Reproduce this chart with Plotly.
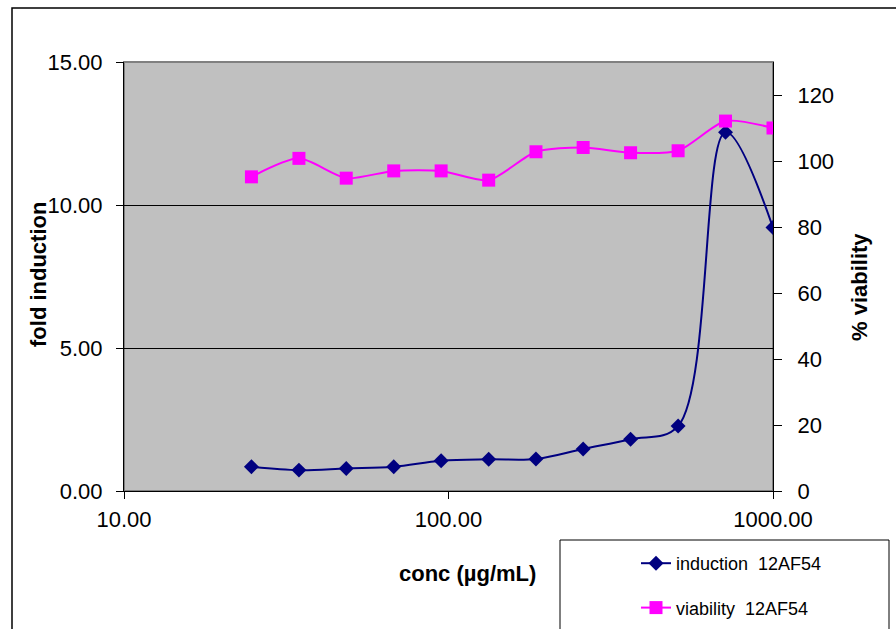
import plotly.graph_objects as go

# ---- data ----
conc = [24.7, 34.6, 48.4, 67.8, 94.9, 133, 186, 260, 364, 510, 714, 1000]
induction = [0.85, 0.73, 0.79, 0.85, 1.06, 1.11, 1.12, 1.47, 1.81, 2.27, 12.54, 9.21]
viability = [95.2, 100.8, 94.8, 97.0, 97.0, 94.2, 102.8, 104.1, 102.5, 103.1, 112.1, 110.0]
x_ticks = [10, 100, 1000]
x_tick_labels = ["10.00", "100.00", "1000.00"]
y1_ticks = [0, 5, 10, 15]
y1_tick_labels = ["0.00", "5.00", "10.00", "15.00"]
y2_ticks = [0, 20, 40, 60, 80, 100, 120]

W, H = 896, 629
L, R, T, B = 124, 773, 62, 491  # plot area in px
pw, ph = R - L, B - T


def px(xp):
    return (xp - L) / pw


def py(yp):
    return (B - yp) / ph


FONT = "Liberation Sans, Arial, sans-serif"

fig = go.Figure()
fig.add_trace(go.Scatter(
    x=conc, y=induction, name="induction \u00a012AF54", mode="lines+markers",
    line=dict(color="#000080", width=2, shape="spline", smoothing=1),
    marker=dict(symbol="diamond", size=11.5, color="#000080"),
    legendgroup="a", yaxis="y"))
fig.add_trace(go.Scatter(
    x=conc, y=viability, name="viability \u00a012AF54", mode="lines+markers",
    line=dict(color="#FF00FF", width=2, shape="spline", smoothing=0.7),
    marker=dict(symbol="square", size=13, color="#FF00FF"),
    legendgroup="b", yaxis="y2"))

fig.update_layout(
    width=W, height=H,
    margin=dict(l=L, r=W - R, t=T, b=H - B, autoexpand=False),
    paper_bgcolor="white", plot_bgcolor="#C0C0C0",
    font=dict(family=FONT, size=22, color="black"),
    xaxis=dict(type="log", range=[1, 3], tickvals=x_ticks, ticktext=x_tick_labels,
               showgrid=False, showline=True, linecolor="black", linewidth=1,
               ticks="outside", ticklen=7, tickcolor="black", zeroline=False,
               ticklabelstandoff=2),
    yaxis=dict(range=[0, 15], tickvals=y1_ticks, ticktext=y1_tick_labels,
               showgrid=True, gridcolor="black", gridwidth=1,
               showline=True, linecolor="black", linewidth=1,
               ticks="outside", ticklen=7, tickcolor="black", zeroline=False,
               ticklabelstandoff=9),
    yaxis2=dict(range=[0, 130], tickvals=y2_ticks, overlaying="y", side="right",
                showgrid=False, showline=True, linecolor="black", linewidth=1,
                ticks="outside", ticklen=8, tickcolor="black", zeroline=False,
                ticklabelstandoff=11),
    showlegend=True,
    legend=dict(x=px(636), y=py(545), xanchor="left", yanchor="top",
                bgcolor="rgba(0,0,0,0)", borderwidth=0,
                font=dict(family=FONT, size=18), tracegroupgap=18),
    shapes=[
        dict(type="rect", xref="paper", yref="paper", x0=0, x1=1, y0=0, y1=1,
             line=dict(color="#808080", width=2), layer="below"),
        dict(type="rect", xref="paper", yref="paper", x0=px(12), x1=px(W + 20),
             y0=py(H + 20), y1=py(8), line=dict(color="black", width=1.5)),
        dict(type="rect", xref="paper", yref="paper", x0=px(560), x1=px(889),
             y0=py(H + 20), y1=py(540), line=dict(color="black", width=1)),
    ],
    annotations=[
        dict(text="<b>fold induction</b>", xref="paper", yref="paper",
             x=px(38), y=py(275), textangle=-90, showarrow=False,
             xanchor="center", yanchor="middle", font=dict(size=22)),
        dict(text="<b>% viability</b>", xref="paper", yref="paper",
             x=px(859), y=py(287), textangle=-90, showarrow=False,
             xanchor="center", yanchor="middle", font=dict(size=22)),
        dict(text="<b>conc (µg/mL)</b>", xref="paper", yref="paper",
             x=px(467), y=py(573), showarrow=False,
             xanchor="center", yanchor="middle", font=dict(size=22)),
    ],
)

fig.write_html("out.html", config={"displayModeBar": False},
               post_script="document.body.style.margin='0';document.body.style.overflow='hidden';")
